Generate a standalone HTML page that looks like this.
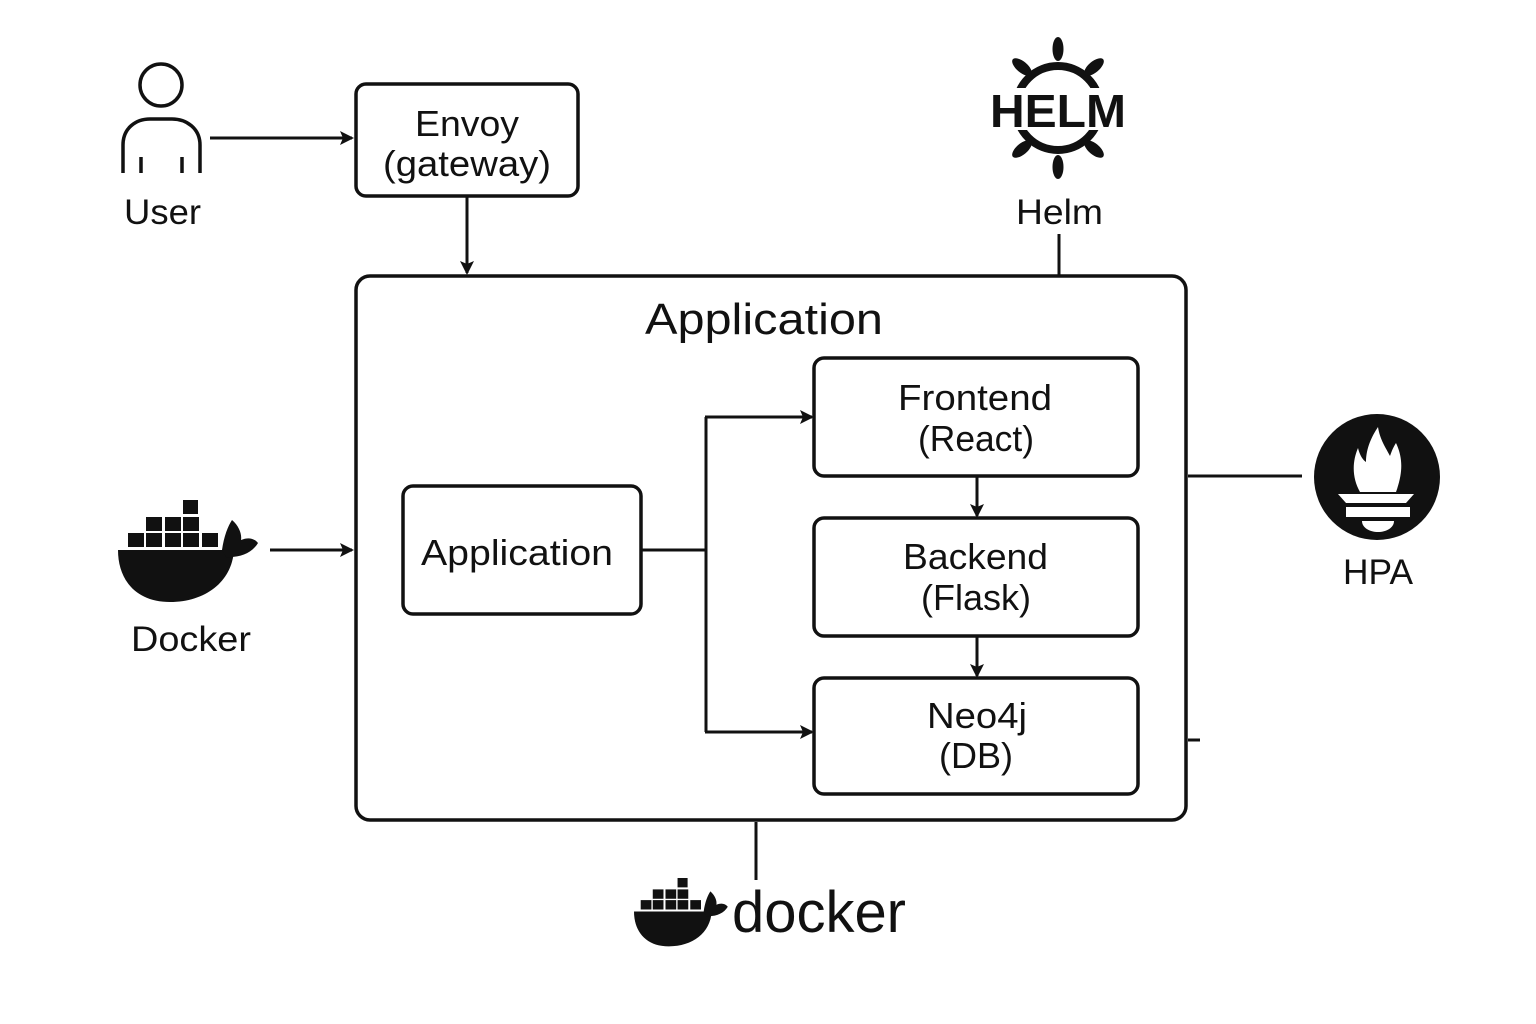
<!DOCTYPE html>
<html><head><meta charset="utf-8"><style>
html,body{margin:0;padding:0;background:#fff;}
svg{display:block;}
text{font-family:"Liberation Sans","DejaVu Sans",sans-serif;fill:#111;}
</style></head><body>
<svg width="1536" height="1024" viewBox="0 0 1536 1024" xmlns="http://www.w3.org/2000/svg">
<defs>
<marker id="ar" markerWidth="14" markerHeight="14" refX="12" refY="7" orient="auto" markerUnits="userSpaceOnUse">
<path d="M0,0 L14,7 L0,14 L3,7 Z" fill="#111"/>
</marker>
<g id="whale">
<rect x="183" y="500" width="15" height="14" fill="#111"/>
<rect x="146" y="517" width="16" height="14" fill="#111"/>
<rect x="165" y="517" width="16" height="14" fill="#111"/>
<rect x="183" y="517" width="16" height="14" fill="#111"/>
<rect x="128" y="533" width="16" height="14" fill="#111"/>
<rect x="146" y="533" width="16" height="14" fill="#111"/>
<rect x="165" y="533" width="16" height="14" fill="#111"/>
<rect x="183" y="533" width="16" height="14" fill="#111"/>
<rect x="202" y="533" width="16" height="14" fill="#111"/>
<path d="M118,550 L234,550 C232,582 205,602 170,602 C136,602 118,580 118,550 Z" fill="#111"/>
<path d="M222,550 C224,536 228,526 232,520 C239,526 242,534 241,540 C248,537 254,538 258,543 C252,553 240,558 226,557 Z" fill="#111"/>
</g>
</defs>
<rect width="1536" height="1024" fill="#fff"/>

<!-- User -->
<circle cx="161" cy="85" r="21" fill="none" stroke="#111" stroke-width="3.5"/>
<path d="M123,173 L123,145 C123,128 136,119 150,119 L172,119 C186,119 200,128 200,145 L200,173" fill="none" stroke="#111" stroke-width="3.5"/>
<line x1="141" y1="157" x2="141" y2="173" stroke="#111" stroke-width="3.5"/>
<line x1="182" y1="157" x2="182" y2="173" stroke="#111" stroke-width="3.5"/>
<text x="124" y="224" font-size="35" textLength="77" lengthAdjust="spacingAndGlyphs">User</text>
<line x1="210" y1="138" x2="352" y2="138" stroke="#111" stroke-width="3" marker-end="url(#ar)"/>

<!-- Envoy -->
<rect x="356" y="84" width="222" height="112" rx="10" fill="none" stroke="#111" stroke-width="3.5"/>
<text x="415" y="136" font-size="36" textLength="104" lengthAdjust="spacingAndGlyphs">Envoy</text>
<text x="383" y="176" font-size="36" textLength="168" lengthAdjust="spacingAndGlyphs">(gateway)</text>
<line x1="467" y1="196" x2="467" y2="273" stroke="#111" stroke-width="3" marker-end="url(#ar)"/>

<!-- Helm -->
<g fill="#111">
<circle cx="1058" cy="108" r="42" fill="none" stroke="#111" stroke-width="8"/>
<ellipse cx="1058" cy="49" rx="5.5" ry="12"/>
<ellipse cx="1058" cy="167" rx="5.5" ry="12"/>
<ellipse cx="1022" cy="67" rx="5.5" ry="12" transform="rotate(-50 1022 67)"/>
<ellipse cx="1094" cy="67" rx="5.5" ry="12" transform="rotate(50 1094 67)"/>
<ellipse cx="1022" cy="149" rx="5.5" ry="12" transform="rotate(50 1022 149)"/>
<ellipse cx="1094" cy="149" rx="5.5" ry="12" transform="rotate(-50 1094 149)"/>
</g>
<rect x="986" y="88" width="144" height="42" fill="#fff"/>
<text x="990" y="127" font-size="46" font-weight="bold" textLength="136" lengthAdjust="spacingAndGlyphs">HELM</text>
<text x="1016" y="224" font-size="35" textLength="87" lengthAdjust="spacingAndGlyphs">Helm</text>
<line x1="1059" y1="234" x2="1059" y2="276" stroke="#111" stroke-width="3"/>

<!-- Big application box -->
<rect x="356" y="276" width="830" height="544" rx="14" fill="none" stroke="#111" stroke-width="3.5"/>
<text x="645" y="334" font-size="44" textLength="238" lengthAdjust="spacingAndGlyphs">Application</text>

<rect x="403" y="486" width="238" height="128" rx="10" fill="none" stroke="#111" stroke-width="3.5"/>
<text x="421" y="565" font-size="36" textLength="192" lengthAdjust="spacingAndGlyphs">Application</text>

<path d="M641,550 L706,550 M706,417 L706,732" stroke="#111" stroke-width="3" fill="none"/>
<line x1="705" y1="417" x2="812" y2="417" stroke="#111" stroke-width="3" marker-end="url(#ar)"/>
<line x1="705" y1="732" x2="812" y2="732" stroke="#111" stroke-width="3" marker-end="url(#ar)"/>

<rect x="814" y="358" width="324" height="118" rx="10" fill="none" stroke="#111" stroke-width="3.5"/>
<text x="898" y="410" font-size="36" textLength="154" lengthAdjust="spacingAndGlyphs">Frontend</text>
<text x="918" y="451" font-size="36" textLength="116" lengthAdjust="spacingAndGlyphs">(React)</text>
<line x1="977" y1="476" x2="977" y2="516" stroke="#111" stroke-width="3" marker-end="url(#ar)"/>

<rect x="814" y="518" width="324" height="118" rx="10" fill="none" stroke="#111" stroke-width="3.5"/>
<text x="903" y="569" font-size="36" textLength="145" lengthAdjust="spacingAndGlyphs">Backend</text>
<text x="921" y="610" font-size="36" textLength="110" lengthAdjust="spacingAndGlyphs">(Flask)</text>
<line x1="977" y1="636" x2="977" y2="676" stroke="#111" stroke-width="3" marker-end="url(#ar)"/>

<rect x="814" y="678" width="324" height="116" rx="10" fill="none" stroke="#111" stroke-width="3.5"/>
<text x="927" y="728" font-size="36" textLength="100" lengthAdjust="spacingAndGlyphs">Neo4j</text>
<text x="939" y="768" font-size="36" textLength="74" lengthAdjust="spacingAndGlyphs">(DB)</text>

<!-- HPA -->
<line x1="1188" y1="476" x2="1302" y2="476" stroke="#111" stroke-width="3"/>
<line x1="1188" y1="740" x2="1200" y2="740" stroke="#111" stroke-width="3"/>
<circle cx="1377" cy="477" r="63" fill="#111"/>
<path d="M1360,492 C1352,478 1352,462 1358,448 C1360,456 1363,460 1366,462 C1366,448 1372,436 1378,427 C1380,440 1386,448 1390,456 C1392,450 1394,446 1396,443 C1402,456 1404,470 1396,492 Z" fill="#fff"/>
<path d="M1338,494 L1414,494 L1406,503 L1346,503 Z" fill="#fff"/>
<rect x="1346" y="507" width="64" height="10" fill="#fff"/>
<path d="M1362,521 L1394,521 C1394,528 1386,532 1378,532 C1370,532 1362,528 1362,521 Z" fill="#fff"/>
<text x="1343" y="584" font-size="35" textLength="70" lengthAdjust="spacingAndGlyphs">HPA</text>

<!-- Docker left -->
<use href="#whale"/>
<line x1="270" y1="550" x2="352" y2="550" stroke="#111" stroke-width="3" marker-end="url(#ar)"/>
<text x="131" y="651" font-size="35" textLength="120" lengthAdjust="spacingAndGlyphs">Docker</text>

<!-- Docker bottom -->
<line x1="756" y1="822" x2="756" y2="880" stroke="#111" stroke-width="3"/>
<use href="#whale" transform="translate(634,878) scale(0.67) translate(-118,-500)"/>
<text x="732" y="932" font-size="58" textLength="174" lengthAdjust="spacingAndGlyphs">docker</text>
</svg>
</body></html>
